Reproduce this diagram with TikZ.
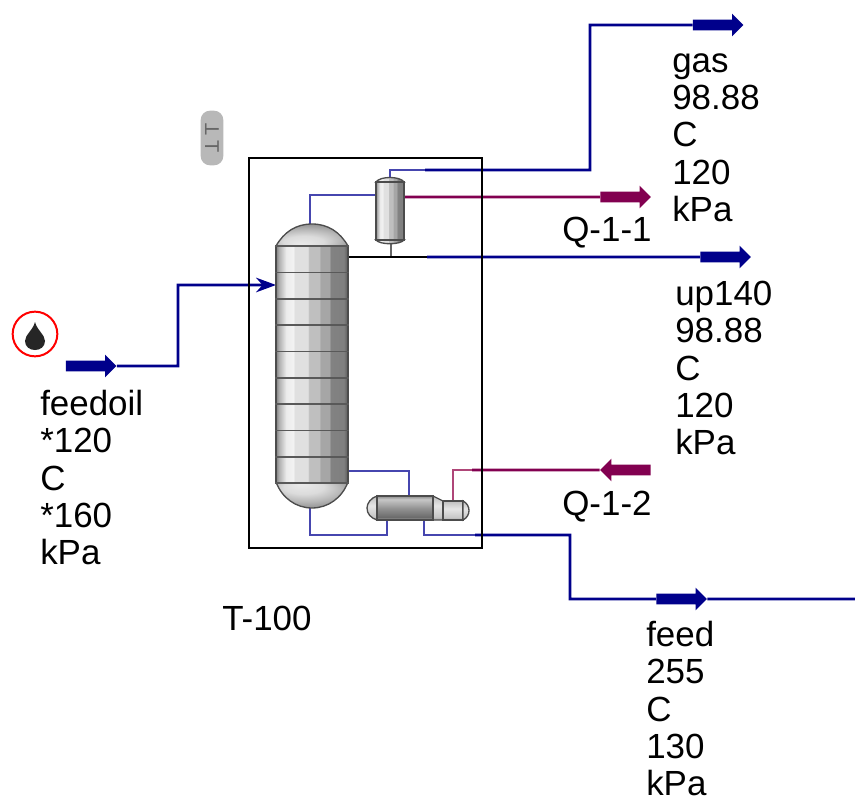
\documentclass[tikz,border=0pt]{standalone}
\usepackage{fontspec}
\setmainfont{Liberation Sans}
\usepackage{tikz}
\usetikzlibrary{shapes.arrows, arrows.meta}
\definecolor{streamblue}{RGB}{0,0,139}
\definecolor{thinblue}{RGB}{70,70,175}
\definecolor{energyred}{RGB}{130,0,80}
\definecolor{thinred}{RGB}{175,70,120}
\pgfdeclarehorizontalshading{vesselshade}{100bp}{
	color(0bp)=(black!50); color(25bp)=(black!50); color(27bp)=(black!32); color(32bp)=(black!8); color(37bp)=(black!5); color(38bp)=(black!12); color(47bp)=(black!12);
	color(48bp)=(black!25); color(55bp)=(black!25); color(56bp)=(black!35); color(62bp)=(black!35); color(63bp)=(black!49); color(72bp)=(black!50); color(75bp)=(black!65); color(100bp)=(black!65)}
\pgfdeclareverticalshading{drumshade}{100bp}{
	color(0bp)=(black!35); color(25bp)=(black!35); color(31bp)=(black!58); color(50bp)=(black!42); color(68bp)=(black!22); color(75bp)=(black!45); color(100bp)=(black!45)}
\pgfdeclareverticalshading{neckshade}{100bp}{
	color(0bp)=(black!35); color(25bp)=(black!35); color(32bp)=(black!22); color(55bp)=(black!10); color(75bp)=(black!25); color(100bp)=(black!25)}
\pgfdeclareradialshading{topdome}{\pgfpoint{-8bp}{-22bp}}{
	color(0bp)=(black!8); color(14bp)=(black!14); color(24bp)=(black!28); color(36bp)=(black!48); color(50bp)=(black!62)}
\pgfdeclareradialshading{botdome}{\pgfpoint{-8bp}{22bp}}{
	color(0bp)=(black!8); color(14bp)=(black!14); color(24bp)=(black!28); color(36bp)=(black!48); color(50bp)=(black!62)}
\tikzstyle{label} = [align=left, anchor=north west, inner sep=0pt, font=\fontsize{26.2}{28}\selectfont]
\tikzstyle{tag} = [anchor=west, inner sep=0pt, font=\fontsize{26.2}{28}\selectfont]
\tikzstyle{stream} = [streamblue, line width=2pt]
\tikzstyle{thinstream} = [thinblue, line width=1.3pt]
\tikzstyle{energy} = [energyred, line width=2.2pt]
\tikzstyle{thinenergy} = [thinred, line width=1.3pt]
\tikzstyle{bigarrow} = [single arrow, inner sep=0pt, minimum height=38pt, single arrow head extend=4.5pt, single arrow head indent=0pt]
\tikzstyle{vessel} = [draw=black!70, line width=1pt, shading=vesselshade]
\tikzstyle{drum} = [draw=black!70, line width=1pt, shading=drumshade]
\tikzstyle{neck} = [draw=black!70, line width=1pt, shading=neckshade]
\tikzstyle{tray} = [black!65, line width=1.4pt]
\newcommand{\shaft}{\rule{0pt}{7.5pt}}

\begin{document}
\begin{tikzpicture}
			[x=0.75pt,y=-0.75pt]
			\useasboundingbox (0,0) rectangle (855,798);

			% anchors on the equipment
			\coordinate (coltop) at (310,224);
			\coordinate (colfeed) at (276,285);
			\coordinate (colside) at (348,257);
			\coordinate (colbase) at (348,471);
			\coordinate (colbot) at (310,508);
			\coordinate (condtop) at (390,178);
			\coordinate (condleft) at (376,195);
			\coordinate (condright) at (404,197);
			\coordinate (condbot) at (391,241);
			\coordinate (reboiltop) at (409,496);
			\coordinate (reboilin) at (387,520);
			\coordinate (reboilout) at (424,520);
			\coordinate (reboilheat) at (453,501);
			\coordinate (feedend) at (855,599);

			% block arrows
			\node (feedoilarrow) [bigarrow, fill=streamblue] at (88.5,366) {\shaft};
			\node (gasarrow) [bigarrow, fill=streamblue] at (715.5,25) {\shaft};
			\node (uparrow) [bigarrow, fill=streamblue] at (723,257) {\shaft};
			\node (feedarrow) [bigarrow, fill=streamblue] at (679,599) {\shaft};
			\node (q1arrow) [bigarrow, fill=energyred] at (623,197) {\shaft};
			\node (q2arrow) [bigarrow, fill=energyred, shape border rotate=180] at (628,470) {\shaft};

			% thin lines inside the box
			\draw [thinstream] (coltop) |- (condleft);
			\draw [thinstream] (condtop) |- (425,170) coordinate (gasjoin);
			\draw [black!60, line width=1.5pt] (condbot) -- (391,257) coordinate (upbranch);
			\draw [black, line width=1pt] (colside) -- (427,257) coordinate (upjoin);
			\draw [thinstream] (colbase) -| (reboiltop);
			\draw [thinstream] (colbot) |- (387,535) -- (reboilin);
			\draw [thinstream] (reboilout) |- (475,535) coordinate (feedjoin);
			\draw [thinenergy] (reboilheat) |- (472,470) coordinate (heatjoin);

			% streams
			\draw [stream] (gasjoin) -- (590,170) -- (590,25) -- (gasarrow);
			\draw [stream] (upjoin) -- (uparrow);
			\draw [stream] (feedjoin) -- (570,535) -- (570,599) -- (feedarrow);
			\draw [stream] (feedarrow) -- (feedend);
			\draw [stream] (feedoilarrow) -- (178,366) -- (178,285) -- (262,285);
			\draw [streamblue, line width=1.4pt, -{Stealth[length=15pt,width=11pt]}] (262,285) -- (colfeed);
			\draw [energy] (condright) -- (q1arrow);
			\draw [energy] (q2arrow) -- (heatjoin);

			% column
			\draw [draw=black!70, line width=1pt, shading=topdome] (276,246) .. controls (284,232) and (296,224) .. (312,224) .. controls (328,224) and (340,232) .. (348,246) -- cycle;
			\draw [draw=black!70, line width=1pt, shading=botdome] (276,482) .. controls (282,498) and (296,508) .. (312,508) .. controls (328,508) and (342,498) .. (348,482) -- cycle;
			\node (column) [vessel, rectangle, inner sep=0pt, minimum width=54pt, minimum height=177.75pt] at (312,364) {};
			\foreach \i in {0,...,9}
				\draw [tray] ([yshift=\i*19.75pt]column.south west) -- ([yshift=\i*19.75pt]column.south east);

			% condenser
			\draw [vessel] (376,182) .. controls (380,176) and (400,176) .. (404,182) -- cycle;
			\draw [vessel] (376,240) .. controls (380,245) and (400,245) .. (404,240) -- cycle;
			\node (condenser) [vessel, rectangle, inner sep=0pt, minimum width=21pt, minimum height=43.5pt] at (390,211) {};

			% reboiler
			\draw [neck] (377,496) .. controls (371,498) and (367,503) .. (367,508) .. controls (367,514) and (371,518) .. (377,520) -- cycle;
			\draw [neck] (433,496) -- (443,501) -- (443,520) -- (433,520) -- cycle;
			\draw [neck] (443,501) -- (463,501) -- (463,520) -- (443,520) -- cycle;
			\draw [neck] (463,501) .. controls (471,505) and (471,516) .. (463,520) -- cycle;
			\draw [drum] (377,496) -- (433,496) -- (433,520) -- (377,520) -- cycle;

			% outer box
			\node (unitbox) [draw=black, line width=2.2pt, rectangle, inner sep=0pt, minimum width=174.75pt, minimum height=292.5pt] at (365.5,353) {};

			% icons
			\node (feedicon) [draw=red, line width=1.5pt, circle, minimum size=33.5pt, inner sep=0pt] at (35,334) {};
			\fill [black!85] (35,322) .. controls (37,330) and (45,335) .. (45,341) .. controls (45,353) and (25,353) .. (25,341) .. controls (25,335) and (33,330) .. (35,322) -- cycle;
			\node (pill) [fill=black!28, rectangle, rounded corners=7pt, inner sep=0pt, minimum width=41pt, minimum height=17pt, rotate=-90, text=black!60, font=\fontsize{15}{15}\selectfont] at (212,138) {\rotatebox[origin=c]{180}{T} T};

			% labels
			\node (gastext) [label] at (672,53) {gas\\98.88\\C\\120\\kPa};
			\node (uptext) [label] at (675,281) {up140\\98.88\\C\\120\\kPa};
			\node (feedoiltext) [label] at (40,390) {feedoil\\*120\\C\\*160\\kPa};
			\node (feedtext) [label] at (646,621) {feed\\255\\C\\130\\kPa};
			\node (q1text) [tag] at (562,233) {Q-1-1};
			\node (q2text) [tag] at (562,507) {Q-1-2};
			\node (unittext) [tag] at (222,618) {T-100};

			\end{tikzpicture}
\end{document}
